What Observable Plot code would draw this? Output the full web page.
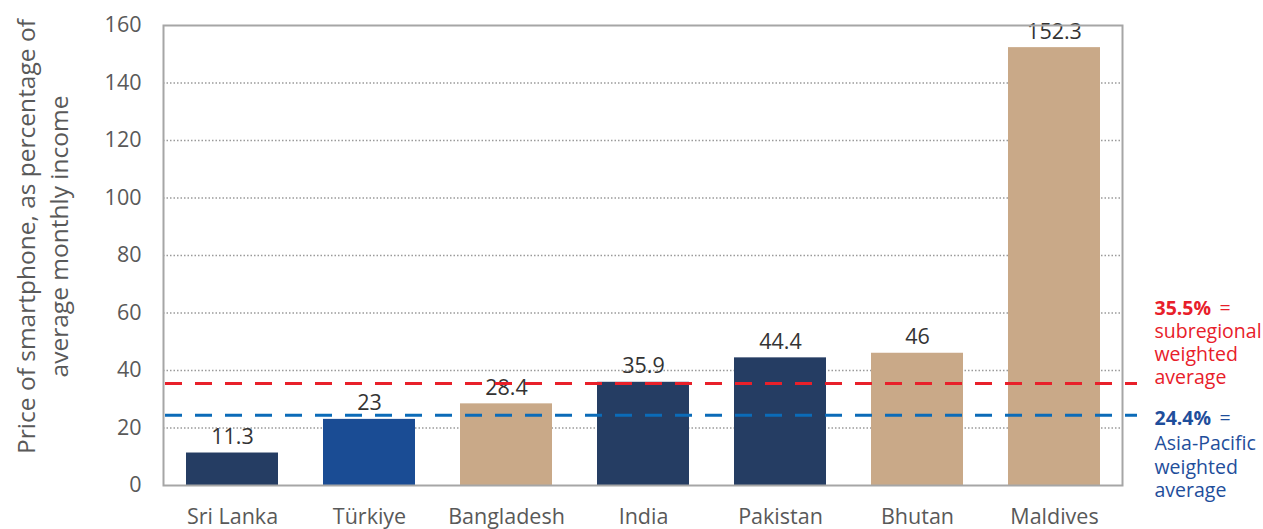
<!DOCTYPE html>
<html>
<head>
<meta charset="utf-8">
<script src="https://cdn.jsdelivr.net/npm/d3@7"></script>
<script src="https://cdn.jsdelivr.net/npm/@observablehq/plot@0.6"></script>
<style>
  html, body { margin: 0; padding: 0; background: #fff; }
  #chart { width: 1263px; height: 529px; }
</style>
</head>
<body>
<div id="chart"></div>
<script>
// ---- data ----
const countries = ["Sri Lanka", "Türkiye", "Bangladesh", "India", "Pakistan", "Bhutan", "Maldives"];
const values = [11.3, 23, 28.4, 35.9, 44.4, 46, 152.3];
const groups = ["g1", "g2", "g3", "g1", "g1", "g3", "g3"];
const groupDomain = ["g1", "g2", "g3"];
const yTicks = [0, 20, 40, 60, 80, 100, 120, 140, 160];
const subregionalAvg = 35.5;
const asiaPacificAvg = 24.4;
const yTitle = "Price of smartphone, as percentage of\naverage monthly income";

const rows = countries.map((c, i) => ({country: c, value: values[i], group: groups[i]}));

const RED = "#e8202a";
const BLUE_DASH = "#0b6bb8";
const BLUE_TEXT = "#1f4e9b";

const chart = Plot.plot({
  width: 1263,
  height: 529,
  marginLeft: 163,
  marginRight: 141,
  marginTop: 25,
  marginBottom: 44,
  style: {fontFamily: "'Open Sans', sans-serif", fontSize: "21px", color: "#595959", background: "#fff"},
  x: {domain: countries, paddingInner: 0.33, paddingOuter: 0.165, label: null},
  y: {domain: [0, 160], label: null},
  color: {domain: groupDomain, range: ["#253d63", "#1a4c94", "#c9a988"]},
  marks: [
    Plot.gridY(yTicks.filter(t => t > 0 && t < 160), {stroke: "#9a9a9a", strokeOpacity: 1, strokeWidth: 1.5, strokeDasharray: "1.5,2"}),
    Plot.barY(rows, {x: "country", y: "value", fill: "group"}),
    Plot.text(rows, {x: "country", y: "value", text: d => String(d.value), lineAnchor: "bottom", dy: -9, fill: "#333333", fontSize: 21.5}),
    Plot.ruleY([subregionalAvg], {stroke: RED, strokeWidth: 3, strokeDasharray: "17,13", insetLeft: 2, insetRight: -15}),
    Plot.ruleY([asiaPacificAvg], {stroke: BLUE_DASH, strokeWidth: 3, strokeDasharray: "17,13", insetLeft: 2, insetRight: -15}),
    Plot.frame({stroke: "#a6a6a6", strokeWidth: 2}),
    Plot.axisY(yTicks, {tickSize: 0, tickPadding: 22, label: null, fill: "#595959", fontSize: 21.5}),
    Plot.axisX({tickSize: 0, tickPadding: 23, label: null, fill: "#595959", fontSize: 21.5}),
    Plot.text([yTitle], {frameAnchor: "left", textAnchor: "middle", lineAnchor: "middle", rotate: -90, dx: -123, dy: -19, lineHeight: 1.36, fill: "#595959", fontSize: 24.5}),
    // annotations
    Plot.text(["35.5%"], {y: [subregionalAvg], frameAnchor: "right", textAnchor: "start", dx: 32, dy: -75, fill: RED, fontWeight: "bold", fontSize: 19.5}),
    Plot.text(["="], {y: [subregionalAvg], frameAnchor: "right", textAnchor: "start", dx: 97, dy: -75, fill: RED, fontSize: 19.5}),
    Plot.text(["subregional\nweighted\naverage"], {y: [subregionalAvg], frameAnchor: "right", textAnchor: "start", dx: 32, dy: -30, lineHeight: 1.2, fill: RED, fontSize: 19.5}),
    Plot.text(["24.4%"], {y: [asiaPacificAvg], frameAnchor: "right", textAnchor: "start", dx: 32, dy: 3, fill: BLUE_TEXT, fontWeight: "bold", fontSize: 19.5}),
    Plot.text(["="], {y: [asiaPacificAvg], frameAnchor: "right", textAnchor: "start", dx: 97, dy: 3, fill: BLUE_TEXT, fontSize: 19.5}),
    Plot.text(["Asia-Pacific\nweighted\naverage"], {y: [asiaPacificAvg], frameAnchor: "right", textAnchor: "start", dx: 32, dy: 51, lineHeight: 1.2, fill: BLUE_TEXT, fontSize: 19.5})
  ]
});
document.getElementById("chart").appendChild(chart);
</script>
</body>
</html>
